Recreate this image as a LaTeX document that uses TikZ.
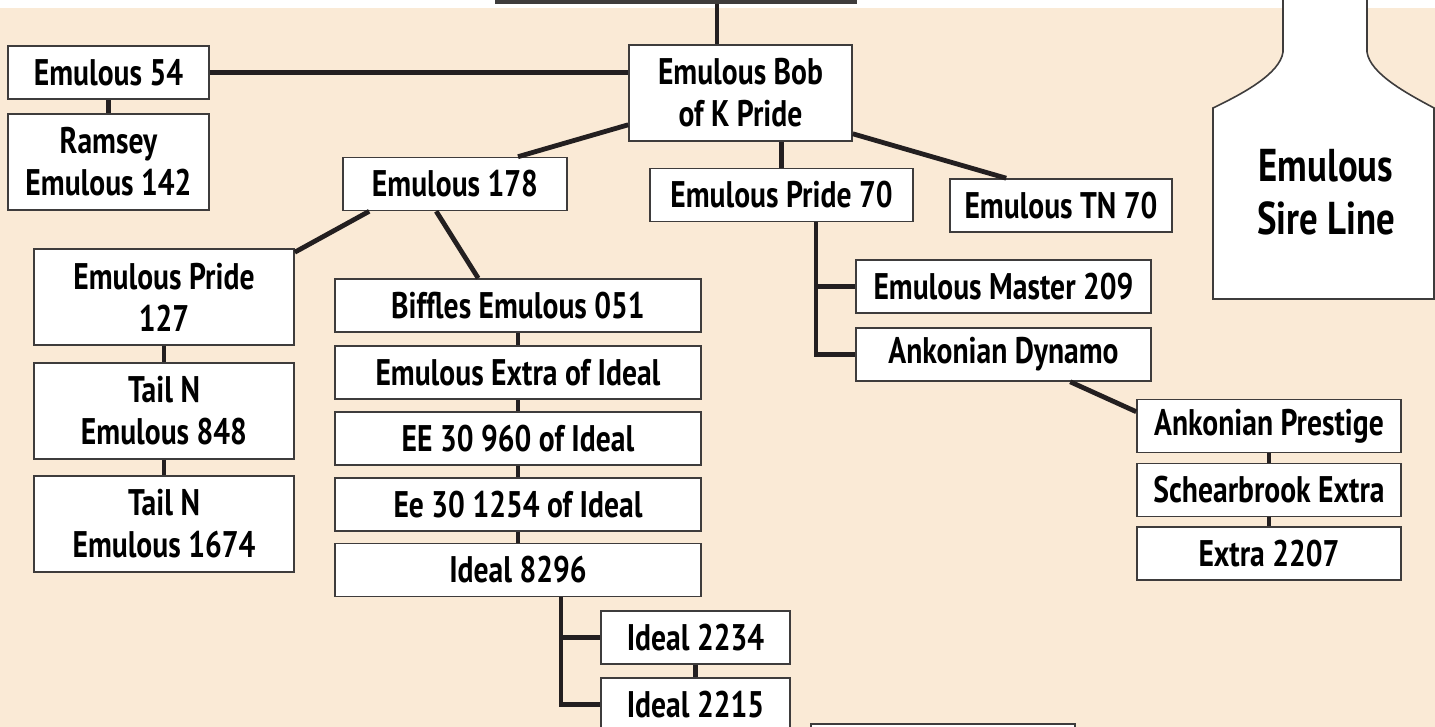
\documentclass[tikz,border=0pt]{standalone}
\usepackage{fontspec}
\setmainfont{PT Sans}[FakeStretch=0.80]
\usetikzlibrary{calc}
\definecolor{sand}{RGB}{250,234,214}
\definecolor{ink}{RGB}{35,31,32}
\definecolor{rim}{RGB}{62,60,60}

\begin{document}
\begin{tikzpicture}[x=0.5pt, y=-0.5pt,
  box/.style={rectangle, draw=rim, line width=0.8pt, fill=white, inner sep=0pt, align=center, font=\bfseries\fontsize{18.5}{21}\selectfont},
  low/.style={box, minimum height=26.5pt},
  tall/.style={box, minimum height=48pt},
  link/.style={draw=ink, line width=2.4pt}]

\useasboundingbox (0,0) rectangle (1435,727);
\clip (0,0) rectangle (1435,727);
\fill[sand] (0,8) rectangle (1435,727);

% ear tag
\filldraw[fill=white, draw=rim, line width=0.8pt] (1283,-10) -- (1283,52) .. controls (1280,74) and (1242,94) .. (1213,108) -- (1213,299) -- (1434,299) -- (1434,108) .. controls (1408,94) and (1370,74) .. (1367,52) -- (1367,-10) -- cycle;
\node[align=center, font=\bfseries\fontsize{23}{26.5}\selectfont] (tag) at (1326,192) {Emulous\\Sire Line};

\node[box, minimum width=179pt, minimum height=40pt, line width=1.6pt] (root) at (676,-38) {};

\node[low, minimum width=100.5pt] (e54) at (108.5,72.5) {Emulous 54};
\node[tall, minimum width=100.5pt] (ramsey) at (108.5,162) {Ramsey\\Emulous 142};
\node[tall, minimum width=111.5pt] (bob) at (740.5,93) {Emulous Bob\\of K Pride};
\node[low, minimum width=112pt] (e178) at (455,184) {Emulous 178};
\node[low, minimum width=131.5pt] (p70) at (781.5,195) {Emulous Pride 70};
\node[low, minimum width=111pt] (tn70) at (1061,205.5) {Emulous TN 70};

\node[tall, minimum width=130pt] (p127) at (164,297) {Emulous Pride\\127};
\node[tall, minimum width=130pt] (t848) at (164,411) {Tail N\\Emulous 848};
\node[tall, minimum width=130pt] (t1674) at (164,524) {Tail N\\Emulous 1674};

\node[low, minimum width=183pt] (biffles) at (518,305.5) {Biffles Emulous 051};
\node[low, minimum width=183pt] (extra) at (518,372.5) {Emulous Extra of Ideal};
\node[low, minimum width=183pt] (ee960) at (518,438.5) {EE 30 960 of Ideal};
\node[low, minimum width=183pt] (ee1254) at (518,504.5) {Ee 30 1254 of Ideal};
\node[low, minimum width=183pt] (i8296) at (518,570) {Ideal 8296};
\node[low, minimum width=94.5pt] (i2234) at (695.5,637.5) {Ideal 2234};
\node[low, minimum width=94.5pt] (i2215) at (695.5,704.5) {Ideal 2215};
\node[low, minimum width=132pt] (below) at (943,750.5) {};

\node[low, minimum width=147.5pt] (master) at (1003.5,286.5) {Emulous Master 209};
\node[low, minimum width=147.5pt] (dynamo) at (1003.5,354.5) {Ankonian Dynamo};
\node[low, minimum width=132pt] (prestige) at (1269,426) {Ankonian Prestige};
\node[low, minimum width=132pt] (schear) at (1269,490) {Schearbrook Extra};
\node[low, minimum width=132pt] (x2207) at (1269,553.5) {Extra 2207};

% trunk points
\coordinate (jroot) at (717,0);
\coordinate (jp70) at (816,0);
\coordinate (j8296) at (561,0);

\draw[link] (root.south -| jroot) -- (bob.north -| jroot);
\draw[link] (e54.east) -- (e54.east -| bob.west);
\draw[link] (bob.south -| p70.north) -- (p70.north);
\draw[link] ($(bob.south west)+(0,-17)$) -- ($(e178.north)+(63,0)$);
\draw[link] ($(bob.south east)+(0,-8)$) -- ($(tn70.north west)+(57,0)$);
\draw[link] ($(e178.south west)+(27,0)$) -- ($(p127.north east)+(0,4)$);
\draw[link] ($(e178.south west)+(94,0)$) -- ($(biffles.north west)+(144,0)$);
\draw[link] ($(dynamo.south west)+(215,0)$) -- ($(prestige.north west)+(0,13)$);

\draw[link] (p70.south -| jp70) |- (master.west);
\draw[link] (p70.south -| jp70) |- (dynamo.west);
\draw[link] (i8296.south -| j8296) |- (i2234.west);
\draw[link] (i8296.south -| j8296) |- (i2215.west);

\path[link] (e54) edge (ramsey);
\path[link] (p127) edge (t848);
\path[link] (t848) edge (t1674);
\path[link] (biffles) edge (extra);
\path[link] (extra) edge (ee960);
\path[link] (ee960) edge (ee1254);
\path[link] (ee1254) edge (i8296);
\path[link] (i2234) edge (i2215);
\path[link] (prestige) edge (schear);
\path[link] (schear) edge (x2207);

\end{tikzpicture}
\end{document}
